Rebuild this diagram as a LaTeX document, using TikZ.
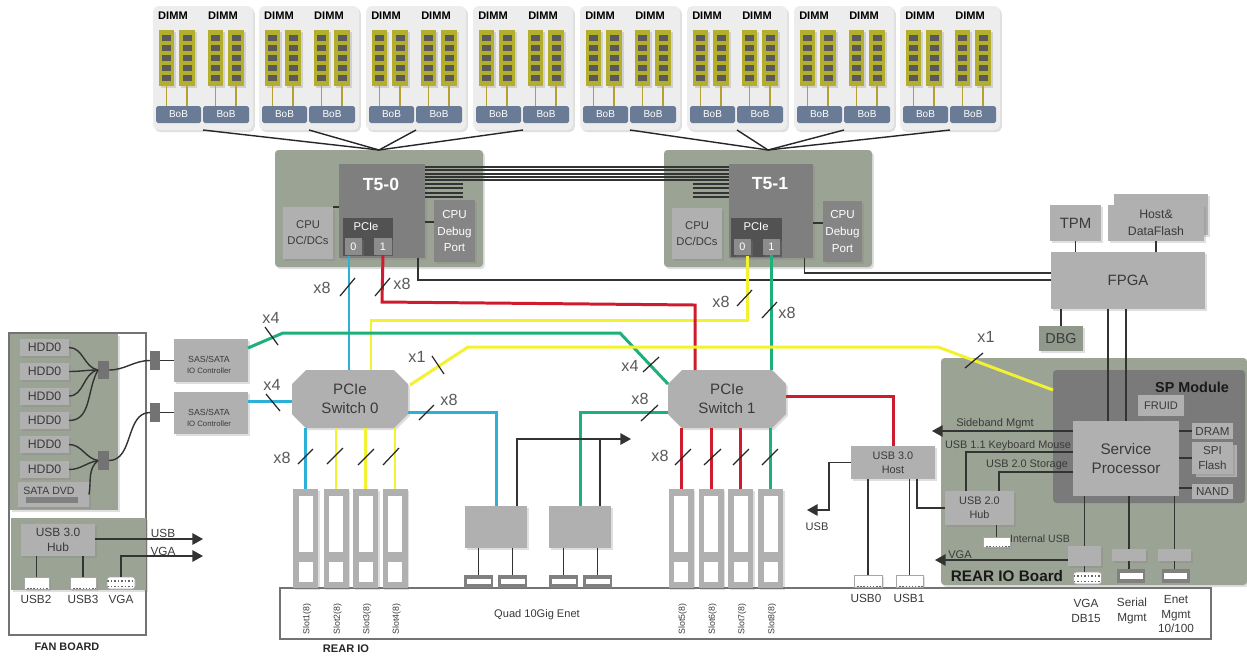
\documentclass[tikz,border=0pt]{standalone}
\usepackage{fontspec}
\setmainfont{Liberation Sans}
\usetikzlibrary{arrows.meta, shapes.misc, shadows}

\definecolor{boardgreen}{HTML}{9BA395}
\definecolor{boxgray}{HTML}{B0B0B0}
\definecolor{chipgray}{HTML}{7F7F7F}
\definecolor{textgray}{HTML}{3A3A3A}
\definecolor{bobblue}{HTML}{6A7B96}
\definecolor{dimmolive}{HTML}{B3AE2E}
\definecolor{lanecyan}{HTML}{2CB0D8}
\definecolor{laneyellow}{HTML}{F2F232}
\definecolor{lanered}{HTML}{CF1B2E}
\definecolor{lanegreen}{HTML}{1DB07A}

\tikzset{
  wh/.style 2 args={minimum width=#1*0.02cm,minimum height=#2*0.02cm},
  fsz/.style 2 args={font=\fontsize{#1}{#2}\selectfont,align=center},
  shade1/.style={drop shadow={shadow xshift=1pt,shadow yshift=-1.2pt,opacity=.25}},
  panel/.style={fill=black!7,rounded corners=3pt,shade1},
  board/.style={fill=boardgreen,rounded corners=2pt,shade1},
  gbox/.style={fill=boxgray,text=textgray,shade1},
  port/.style={fill=black!45,text=white,fsz={6.2}{7},shade1},
  outline/.style={draw=black!55,fill=white,line width=.7pt},
  lbl/.style={text=black!65,fsz={9.2}{10}},
  note/.style={text=textgray,fsz={6.3}{7.5}},
  usbc/.style={fill=white,draw=black!35,line width=.5pt,shade1,path picture={\draw[black!60,densely dotted,line width=.8pt] (path picture bounding box.south west) -- (path picture bounding box.south east);}},
  vgac/.style={fill=white,draw=black!35,rounded corners=1.5pt,path picture={\draw[black!60,densely dotted,line width=1pt] ([yshift=-.08cm]path picture bounding box.north west) -- ([yshift=-.08cm]path picture bounding box.north east);\draw[black!60,densely dotted,line width=1pt] ([yshift=.05cm]path picture bounding box.south west) -- ([yshift=.05cm]path picture bounding box.south east);}},
  rjc/.style={fill=black!50,path picture={\fill[white] ([xshift=.05cm,yshift=-.07cm]path picture bounding box.north west) rectangle ([xshift=-.05cm,yshift=.09cm]path picture bounding box.south east);}},
  wire/.style={draw=black!80,line width=.8pt},
  fan/.style={draw=black!85,line width=.8pt},
  tick/.style={draw=black!85,line width=.7pt},
  busc/.style={draw=lanecyan,line width=1.7pt},
  busy/.style={draw=laneyellow,line width=1.7pt},
  busr/.style={draw=lanered,line width=1.7pt},
  busg/.style={draw=lanegreen,line width=1.7pt}
}

\begin{document}
\begin{tikzpicture}[x=0.02cm, y=-0.02cm, >={Triangle[length=6pt,width=6.5pt]}, every node/.style={inner sep=0pt,outer sep=0pt}]
\useasboundingbox (0,0) rectangle (1247,657);

% DIMM panels
\foreach \p/\n in {153/a,259/b,366/c,473/d,580/e,687/f,794/g,900/h} {
  \node[panel,wh={100}{124}] (pnl\n) at (\p+50,68) {};
  \node[font=\fontsize{6.3}{7}\selectfont\bfseries] (dl\n1) at (\p+20,16) {DIMM};
  \node[font=\fontsize{6.3}{7}\selectfont\bfseries] (dl\n2) at (\p+70,16) {DIMM};
  \node[fill=bobblue,text=white,rounded corners=1pt,fsz={5.7}{7},wh={45}{17}] (bob\n1) at (\p+25.5,114.5) {BoB};
  \node[fill=bobblue,text=white,rounded corners=1pt,fsz={5.7}{7},wh={46}{17}] (bob\n2) at (\p+73,114.5) {BoB};
  \foreach \s/\o/\b in {1/13.5/1,2/34/1,3/62.5/2,4/83/2} {
    \node[fill=dimmolive,wh={15.5}{56},shade1] (st\n\s) at (\p+\o,58) {};
    \foreach \c in {38,48,58,68,78}
      \node[fill=black!65,wh={9}{6}] at (\p+\o,\c) {};
    \draw[draw=dimmolive!70!brown,line width=.8pt] (st\n\s.south) -- (st\n\s.south |- bob\n\b.north);
  }
}

% CPU boards
\node[board,wh={208}{117}] (brd0) at (379,208.5) {};
\node[board,wh={208}{117}] (brd1) at (768,208.5) {};
\node[fill=chipgray,wh={86}{94},shade1] (chip0) at (382,211) {};
\node[fill=chipgray,wh={84}{94},shade1] (chip1) at (771,211) {};
\node[text=white,font=\fontsize{10}{12}\selectfont\bfseries] (name0) at (381,184) {T5-0};
\node[text=white,font=\fontsize{10}{12}\selectfont\bfseries] (name1) at (770,184) {T5-1};
\node[fill=black!68,wh={50}{38},shade1] (pcie0) at (368,237) {};
\node[fill=black!68,wh={51}{39},shade1] (pcie1) at (756.5,237.5) {};
\node[text=white,fsz={6.4}{7}] (pl0) at (366,227) {PCIe};
\node[text=white,fsz={6.4}{7}] (pl1) at (756,227) {PCIe};
\node[port,wh={17}{17}] (p00) at (353.5,246.5) {0};
\node[port,wh={18}{17}] (p01) at (383,246.5) {1};
\node[port,wh={17}{16}] (p10) at (742.5,247) {0};
\node[port,wh={17}{16}] (p11) at (771.5,247) {1};
\node[gbox,fsz={6.4}{9},wh={50}{52}] (dc0) at (308,233) {CPU\\DC/DCs};
\node[gbox,fsz={6.4}{9},wh={50}{51}] (dc1) at (697,233.5) {CPU\\DC/DCs};
\node[fill=black!48,text=white,fsz={6.6}{9.5},wh={41}{62},shade1] (dbg0) at (454.5,231) {CPU\\Debug\\Port};
\node[fill=black!48,text=white,fsz={6.6}{9.5},wh={39}{61},shade1] (dbg1) at (842.5,231.5) {CPU\\Debug\\Port};

% DIMM fan in
\foreach \n in {a,b,c,d}
  \draw[fan] (pnl\n.south) -- (brd0.north);
\foreach \n in {e,f,g,h}
  \draw[fan] (pnl\n.south) -- (brd1.north);

% Links between the two CPUs
\foreach \y in {167,170,174,177,180}
  \draw[wire] (chip0.east |- 0,\y) -- (chip1.west |- 0,\y);
\foreach \y in {184,188,193,197} {
  \draw[wire] (chip0.east |- 0,\y) -- +(38,0);
  \draw[wire] (chip1.west |- 0,\y) -- +(-36,0);
}
\draw[wire] (chip0.east |- 0,222) -- (dbg0.west |- 0,222);
\draw[wire] (chip1.east |- 0,223) -- (dbg1.west |- 0,223);
\draw[wire] (chip0.west |- 0,207) -- (dc0.east |- 0,207);

% FPGA and friends
\node[gbox,fsz={8.5}{10},wh={154}{57}] (fpga) at (1128,280.5) {FPGA};
\node[gbox,fsz={8.5}{10},wh={51}{36}] (tpm) at (1075.5,223) {TPM};
\node[gbox,wh={94}{41}] (flashb) at (1161,214.5) {};
\node[gbox,fsz={7}{9.5},wh={96}{36}] (flash) at (1156,223) {Host\&\\DataFlash};
\node[fill=boardgreen!93!black,text=textgray,fsz={8.2}{10},wh={44}{25},shade1] (dbgp) at (1061,338.5) {DBG};
\draw[wire] (tpm.south) -- (tpm.south |- fpga.north);
\draw[wire] (flash.south) -- (flash.south |- fpga.north);
\draw[wire] (fpga.south -| dbgp.north) -- (dbgp.north);
\coordinate (out0) at (418,258);
\coordinate (out1) at (804.5,258);
\draw[wire] (out0) |- (fpga.west |- 0,280);
\draw[wire] (out1) |- (fpga.west |- 0,273);

% Rear IO board
\node[fill=white,draw=black!55,line width=.7pt,wh={931}{51}] (rear) at (745.5,613.5) {};
\node[board,wh={306}{227}] (rearb) at (1094,471.5) {};
\node[fill=black!52,rounded corners=2pt,wh={192}{133}] (spm) at (1149,436.5) {};
\node[text=black!90,font=\fontsize{8.2}{10}\selectfont\bfseries] (spname) at (1192,387) {SP Module};
\node[text=black!90,font=\fontsize{8.7}{10}\selectfont\bfseries] (rearname) at (1007,576) {REAR IO Board};
\node[gbox,fsz={8.7}{10.5},wh={106}{75}] (sp) at (1126,458.5) {Service\\Processor};
\node[gbox,fsz={6.3}{7.5},wh={46}{21}] (fruid) at (1161,405.5) {FRUID};
\node[gbox,fsz={6.6}{7.5},wh={41}{16}] (dram) at (1212.5,431) {DRAM};
\node[gbox,wh={41}{32}] (spib) at (1216.5,460.5) {};
\node[gbox,fsz={6.6}{8.5},wh={41}{32}] (spi) at (1212.5,458) {SPI\\Flash};
\node[gbox,fsz={6.6}{7.5},wh={41}{15}] (nand) at (1212.5,491.5) {NAND};
\draw[wire] (sp.east |- dram.west) -- (dram.west);
\draw[wire] (sp.east |- spi.west) -- (spi.west);
\draw[wire] (sp.east |- 0,488) -- (nand.west |- 0,488);
\draw[wire] (fpga.south -| 1108,0) -- (sp.north -| 1108,0);
\draw[wire] (fpga.south -| 1126,0) -- (sp.north -| 1126,0);

\node[gbox,fsz={6.2}{7.8},wh={84}{33}] (host) at (893,462.5) {USB 3.0\\Host};
\node[gbox,fsz={6.2}{7.8},wh={69}{34}] (hub) at (979.5,508) {USB 2.0\\Hub};
\node[usbc,wh={27}{10}] (intusb) at (996.5,542) {};
\node[note,font=\fontsize{6}{7}\selectfont] (intlbl) at (1040,539) {Internal USB};
\draw[wire] (hub.south -| intusb.north) -- (intusb.north);

\coordinate (sbtip) at (932,431);
\coordinate (kbd) at (966,452);
\coordinate (stor) at (999,472);
\coordinate (hh) at (917,508);
\coordinate (usbc) at (829,510);
\coordinate (usbtip) at (807,510);
\coordinate (vgatip) at (935,560);
\draw[wire,->] (sp.west |- sbtip) -- (sbtip);
\draw[wire] (sp.west |- kbd) -- (kbd) -- (kbd |- hub.north);
\draw[wire] (sp.west |- stor) -- (stor) -- (stor |- hub.north);
\draw[wire] (hh |- host.south) -- (hh) -- (hub.west);
\draw[wire,->] (host.west) -- (usbc |- host.west) -- (usbc) -- (usbtip);
\node[note] (sblbl) at (995,424) {Sideband Mgmt};
\node[note,font=\fontsize{6.2}{7}\selectfont] (kbdlbl) at (1008,446) {USB 1.1 Keyboard Mouse};
\node[note,font=\fontsize{6.2}{7}\selectfont] (storlbl) at (1027,465) {USB 2.0 Storage};
\node[note] (usblbl) at (817,527) {USB};

% Rear connectors
\node[gbox,wh={33}{20}] (vgab) at (1084.5,556) {};
\node[gbox,wh={34}{12}] (serb) at (1129,555) {};
\node[gbox,wh={33}{12}] (enb) at (1174.5,555) {};
\node[vgac,wh={28}{12}] (vgaj) at (1087.5,578) {};
\node[rjc,wh={28}{14}] (serj) at (1131,576) {};
\node[rjc,wh={28}{14}] (enj) at (1175.5,576) {};
\draw[wire] (vgab.north |- sp.south) -- (vgab.north);
\draw[wire] (serb.north |- sp.south) -- (serb.north);
\draw[wire] (enb.north |- sp.south) -- (enb.north);
\draw[wire] (vgab.south) -- (vgab.south |- vgaj.north);
\draw[wire] (serb.south) -- (serb.south |- serj.north);
\draw[wire] (enb.south) -- (enb.south |- enj.north);
\draw[wire,->] (vgab.west |- vgatip) -- (vgatip);
\node[note] (vgalbl) at (960,555) {VGA};
\node[note,font=\fontsize{6.7}{8.5}\selectfont] (vgatxt) at (1086,611) {VGA\\DB15};
\node[note,font=\fontsize{6.7}{8.5}\selectfont] (sertxt) at (1132,611) {Serial\\Mgmt};
\node[note,font=\fontsize{6.7}{8.3}\selectfont] (entxt) at (1176,614) {Enet\\Mgmt\\10/100};

\node[usbc,wh={28}{12}] (usb0) at (868,581) {};
\node[usbc,wh={27}{12}] (usb1) at (909.5,581) {};
\draw[wire] (usb0.north |- host.south) -- (usb0.north);
\draw[wire] (usb1.north |- host.south) -- (usb1.north);
\node[note,font=\fontsize{6.7}{8}\selectfont] (usb0l) at (866,598) {USB0};
\node[note,font=\fontsize{6.7}{8}\selectfont] (usb1l) at (909,598) {USB1};

% Slots
\foreach \x/\n in {305.5/1,336/2,365.5/3,395/4,681/5,711/6,740.5/7,770.5/8} {
  \node[gbox,wh={25}{99}] (slot\n) at (\x,538.5) {};
  \node[fill=white,wh={14}{56}] (slu\n) at (\x,524) {};
  \node[fill=white,wh={14}{20}] (sll\n) at (\x,572) {};
  \node[text=textgray,rotate=90,fsz={5}{6}] (sln\n) at (\x+1.5,619) {Slot\n(8)};
}
\node[note,font=\fontsize{6.3}{7}\selectfont] (quadl) at (537,615) {Quad 10Gig Enet};
\node[font=\fontsize{6.3}{7}\selectfont\bfseries,text=black!85] (rearl) at (346,649) {REAR IO};

% Switches
\node[fill=boxgray,text=textgray,fsz={8.6}{10.5},chamfered rectangle,chamfered rectangle xsep=.14cm,chamfered rectangle ysep=.14cm,wh={116}{58},shade1] (sw0) at (350,399) {PCIe\\Switch 0};
\node[fill=boxgray,text=textgray,fsz={8.6}{10.5},chamfered rectangle,chamfered rectangle xsep=.14cm,chamfered rectangle ysep=.14cm,wh={118}{58},shade1] (sw1) at (727,399) {PCIe\\Switch 1};

% Quad 10Gig
\node[gbox,wh={62}{42}] (q0) at (496,527) {};
\node[gbox,wh={62}{42}] (q1) at (580,527) {};
\node[rjc,wh={29}{13}] (qj1) at (478.5,581.5) {};
\node[rjc,wh={29}{13}] (qj2) at (512.5,581.5) {};
\node[rjc,wh={29}{13}] (qj3) at (563.5,581.5) {};
\node[rjc,wh={29}{13}] (qj4) at (597.5,581.5) {};
\draw[wire] (qj1.north |- q0.south) -- (qj1.north);
\draw[wire] (qj2.north |- q0.south) -- (qj2.north);
\draw[wire] (qj3.north |- q1.south) -- (qj3.north);
\draw[wire] (qj4.north |- q1.south) -- (qj4.north);

% Fan board
\node[outline,wh={137}{302}] (fanb) at (77.5,484) {};
\node[board,rounded corners=0pt,wh={108}{176}] (hddp) at (64,422) {};
\node[board,rounded corners=0pt,wh={135}{72}] (hubp) at (78.5,554) {};
\node[font=\fontsize{6.2}{7}\selectfont\bfseries,text=black!85] (fanl) at (67,647) {FAN BOARD};
\foreach \n/\y in {1/347.5,2/371.5,3/396,4/420.5,5/444.5,6/469.5}
  \node[gbox,fsz={7}{8},wh={49}{17}] (hdd\n) at (44.5,\y) {HDD0};
\node[gbox,wh={71}{25}] (dvd) at (53.5,494.5) {};
\node[fill=black!50,wh={52}{6}] (dvdbar) at (52,500) {};
\node[text=textgray,fsz={6}{7}] (dvdl) at (49,491) {SATA DVD};
\node[fill=black!55,wh={11}{18}] (mux1) at (103.5,370) {};
\node[fill=black!55,wh={11}{19}] (mux2) at (103.5,460.5) {};
\node[fill=black!55,wh={10}{19}] (con1) at (155,360.5) {};
\node[fill=black!55,wh={10}{19}] (con2) at (155,412.5) {};
\node[gbox,wh={74}{43}] (ctl1) at (211,360.5) {};
\node[gbox,wh={74}{42}] (ctl2) at (211,413) {};
\node[text=textgray,fsz={5}{6.5}] (ctl1l) at (209,365) {SAS/SATA\\[-.4pt]{\fontsize{4.4}{6}\selectfont IO Controller}};
\node[text=textgray,fsz={5}{6.5}] (ctl2l) at (209,418) {SAS/SATA\\[-.4pt]{\fontsize{4.4}{6}\selectfont IO Controller}};

\draw[wire] (hdd1.east) to[out=0,in=170] (mux1.west);
\draw[wire] (hdd2.east) to[out=0,in=180] (mux1.west);
\draw[wire] (hdd3.east) to[out=0,in=190] (mux1.west);
\draw[wire] (hdd4.east) to[out=0,in=240] (mux1.west);
\draw[wire] (hdd5.east) to[out=0,in=170] (mux2.west);
\draw[wire] (hdd6.east) to[out=0,in=190] (mux2.west);
\draw[wire] (dvd.east) to[out=80,in=220] (mux2.west);
\draw[wire] (mux1.east) to[out=0,in=180] (con1.west);
\draw[wire] (mux2.east) to[out=0,in=180] (con2.west);
\draw[wire] (con1.east) -- (ctl1.west |- con1.east);
\draw[wire] (con2.east) -- (ctl2.west |- con2.east);

\node[gbox,fsz={6.8}{8.8},wh={74}{32}] (fhub) at (58,540) {USB 3.0\\Hub};
\node[usbc,wh={25}{12}] (fusb2) at (36.5,583) {};
\node[usbc,wh={26}{12}] (fusb3) at (83,583) {};
\node[vgac,wh={28}{12}] (fvga) at (121,583) {};
\draw[wire] (fusb2.north |- fhub.south) -- (fusb2.north);
\draw[wire] (fusb3.north |- fhub.south) -- (fusb3.north);
\coordinate (fusbtip) at (203,539);
\coordinate (fvgatip) at (203,556);
\draw[wire,->] (fhub.east |- fusbtip) -- (fusbtip);
\draw[wire,->] (fvga.north) |- (fvgatip);
\node[note,font=\fontsize{6.7}{8}\selectfont] (fl1) at (36,599) {USB2};
\node[note,font=\fontsize{6.7}{8}\selectfont] (fl2) at (83,599) {USB3};
\node[note,font=\fontsize{6.7}{8}\selectfont] (fl3) at (121,599) {VGA};
\node[note,font=\fontsize{6.7}{8}\selectfont] (fl4) at (163,533) {USB};
\node[note,font=\fontsize{6.7}{8}\selectfont] (fl5) at (163,551) {VGA};

% PCIe lanes (x8 up to the CPUs)
\coordinate (c0) at (349,256);
\coordinate (y0) at (747,256);
\coordinate (ya) at (371,320);
\coordinate (yb) at (747,320);
\coordinate (ra) at (382,302);
\coordinate (rb) at (695,305);
\draw[busc] (c0) -- (c0 |- sw0.north);
\draw[busy] (ya |- sw0.north) -- (ya) -- (yb) -- (y0);
\draw[busr] (p01.south) -- (ra) -- (rb) -- (rb |- sw1.north);
\draw[busg] (p11.south) -- (p11.south |- sw1.north);

% Controllers to switches
\coordinate (ga) at (283,333);
\coordinate (gb) at (620,333);
\coordinate (gc) at (668,384);
\draw[busg] (ctl1.east |- 0,348) -- (ga) -- (gb) -- (gc);
\draw[busc] (ctl2.east |- 0,401) -- (sw0.west |- 0,401);

% Yellow x1 to the SP
\coordinate (ea) at (410,385);
\coordinate (eb) at (468,347);
\coordinate (ec) at (938,347);
\draw[busy] (ea) -- (eb) -- (ec) -- (spm.west |- 0,390);

% Switches to Quad 10Gig and slots
\draw[busc] (sw0.east |- 0,412) -| (q0.north);
\draw[busg] (sw1.west |- 0,412) -| (q1.north);
\draw[busr] (sw1.east |- 0,396) -| (host.north);
\draw[busc] (slot1.north |- sw0.south) -- (slot1.north);
\draw[busy] (slot2.north |- sw0.south) -- (slot2.north);
\draw[busy] (slot3.north |- sw0.south) -- (slot3.north);
\draw[busy] (slot4.north |- sw0.south) -- (slot4.north);
\draw[busr] (slot5.north |- sw1.south) -- (slot5.north);
\draw[busr] (slot6.north |- sw1.south) -- (slot6.north);
\draw[busr] (slot7.north |- sw1.south) -- (slot7.north);
\draw[busg] (slot8.north |- sw1.south) -- (slot8.north);

% Arrow over the Quad 10Gig
\coordinate (qa) at (517,506);
\coordinate (qb) at (600,506);
\coordinate (qtip) at (631,439);
\draw[wire,->] (qa) |- (qtip);
\draw[wire] (qb) -- (qb |- qtip);

% Lane ticks
\foreach \a/\b/\c/\d in {340/296/355/278,375/296/390/278,265/327/278/345,266/394/280/411,432/356/444/374,419/420/434/405,298/464/313/449,327/464/343/448,358/465/374/449,383/465/399/448,643/372/659/357,641/421/658/405,675/465/691/449,704/465/721/449,733/465/749/449,762/465/778/449,737/306/752/290,762/318/777/302,965/368/983/353}
  \draw[tick] (\a,\b) -- (\c,\d);

% Lane labels
\node[lbl] (lw1) at (322,288) {x8};
\node[lbl] (lw2) at (402,284) {x8};
\node[lbl] (lw3) at (271,318) {x4};
\node[lbl] (lw4) at (272,385) {x4};
\node[lbl] (lw5) at (417,357) {x1};
\node[lbl] (lw6) at (449,400) {x8};
\node[lbl] (lw7) at (282,458) {x8};
\node[lbl] (lw8) at (630,366) {x4};
\node[lbl] (lw9) at (640,399) {x8};
\node[lbl] (lw10) at (660,456) {x8};
\node[lbl] (lw11) at (721,302) {x8};
\node[lbl] (lw12) at (787,313) {x8};
\node[lbl] (lw13) at (986,337) {x1};

\end{tikzpicture}
\end{document}
